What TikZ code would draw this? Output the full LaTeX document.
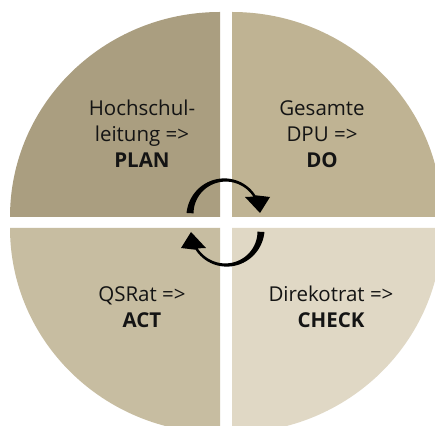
\documentclass[tikz,border=0pt]{standalone}
\usepackage{fontspec}
\setmainfont{Open Sans}
\begin{document}
\begin{tikzpicture}[x=1pt,y=1pt,
  quarter/.style={draw=none},
  label/.style={font=\fontsize{20.5}{26}\selectfont, align=center, inner sep=0pt, text=black!92},
  turn/.style={fill=black}]
\definecolor{plancol}{RGB}{170,158,128}
\definecolor{docol}{RGB}{191,179,147}
\definecolor{actcol}{RGB}{199,189,161}
\definecolor{checkcol}{RGB}{224,216,197}
\useasboundingbox (0,0) rectangle (435,425);
\fill[white] (0,0) rectangle (435,425);

% four quarters of the disc, separated by white gaps
\begin{scope}
\clip (0,0) rectangle (435,425);
\coordinate (cTL) at (220,208);
\coordinate (cTR) at (232,208);
\coordinate (cBL) at (220,197);
\coordinate (cBR) at (232,197);
\fill[quarter, plancol] (cTL) -- ++(-210,0) arc[start angle=180, end angle=90, x radius=210, y radius=205] -- cycle;
\fill[quarter, docol] (cTR) -- ++(0,205) arc[start angle=90, end angle=0, x radius=210, y radius=205] -- cycle;
\fill[quarter, actcol] (cBL) -- ++(-210,0) arc[start angle=180, end angle=270, x radius=210, y radius=205] -- cycle;
\fill[quarter, checkcol] (cBR) -- ++(210,0) arc[start angle=0, end angle=-90, x radius=210, y radius=205] -- cycle;
\end{scope}

% labels
\node[label] (plan) at (142,291) {Hochschul-\\leitung =>\\\textbf{PLAN}};
\node[label] (do) at (322,291) {Gesamte\\DPU =>\\\textbf{DO}};
\node[label] (act) at (142,117.5) {QSRat =>\\\textbf{ACT}};
\node[label] (check) at (331,117.8) {Direkotrat =>\\\textbf{CHECK}};

% tapered circular arrow, drawn around the local origin
\newcommand\pdcaturn{%
  \fill[turn]
    plot[domain=177:33, samples=50, smooth]
      ({(35+(2.5+4.5*((\x-33)/144)^2)/2)*cos(\x)}, {(35+(2.5+4.5*((\x-33)/144)^2)/2)*sin(\x)})
    -- (45,18) -- (35,2) -- (20,18)
    -- plot[domain=33:177, samples=50, smooth]
      ({(35-(2.5+4.5*((\x-33)/144)^2)/2)*cos(\x)}, {(35-(2.5+4.5*((\x-33)/144)^2)/2)*sin(\x)})
    -- cycle;}
\begin{scope}[shift={(225,210)}]
  \pdcaturn
\end{scope}
\begin{scope}[shift={(226,195)}, rotate=180]
  \pdcaturn
\end{scope}
\end{tikzpicture}
\end{document}
